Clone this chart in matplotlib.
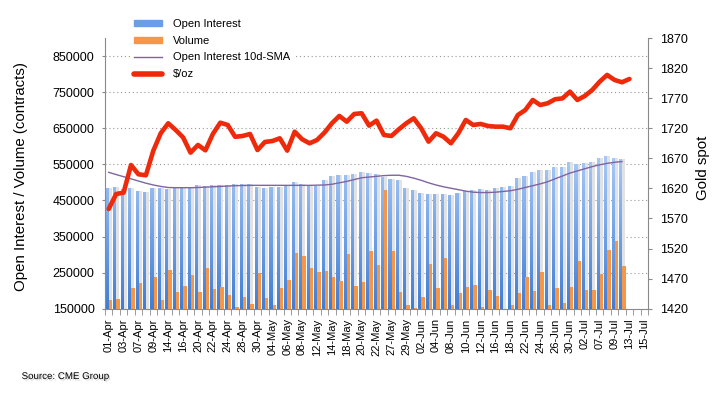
import numpy as np
import matplotlib
matplotlib.use('Agg')
import matplotlib.pyplot as plt
from matplotlib.path import Path
from matplotlib.patches import Patch
from matplotlib.lines import Line2D
from matplotlib.colors import LinearSegmentedColormap
import matplotlib.patheffects as pe

plt.rcParams['font.family'] = ['Liberation Sans', 'DejaVu Sans']

# trading days shown on the category axis
dates = ['01-Apr', '02-Apr', '03-Apr', '06-Apr', '07-Apr', '08-Apr', '09-Apr', '13-Apr', '14-Apr',
         '15-Apr', '16-Apr', '17-Apr', '20-Apr', '21-Apr', '22-Apr', '23-Apr', '24-Apr', '27-Apr',
         '28-Apr', '29-Apr', '30-Apr', '01-May', '04-May', '05-May', '06-May', '07-May', '08-May',
         '11-May', '12-May', '13-May', '14-May', '15-May', '18-May', '19-May', '20-May', '21-May',
         '22-May', '26-May', '27-May', '28-May', '29-May', '01-Jun', '02-Jun', '03-Jun', '04-Jun',
         '05-Jun', '08-Jun', '09-Jun', '10-Jun', '11-Jun', '12-Jun', '15-Jun', '16-Jun', '17-Jun',
         '18-Jun', '19-Jun', '22-Jun', '23-Jun', '24-Jun', '25-Jun', '26-Jun', '29-Jun', '30-Jun',
         '01-Jul', '02-Jul', '06-Jul', '07-Jul', '08-Jul', '09-Jul', '10-Jul', '13-Jul', '14-Jul',
         '15-Jul']

# contracts
open_interest = [485600, 487400, 481000, 484700, 476300, 473600, 485600, 485600, 482800, 486500,
                 486500, 486500, 493000, 490200, 493000, 493000, 493000, 495800, 495800, 495800,
                 487400, 484700, 487400, 487400, 491000, 500400, 495800, 490200, 491000, 506900,
                 517000, 520800, 520800, 523500, 529000, 526300, 524500, 516000, 509600, 506900,
                 485500, 479000, 471600, 468000, 468000, 468000, 465000, 471600, 476000, 479000,
                 482000, 480000, 484700, 487500, 490000, 512000, 519000, 528000, 534600, 534600,
                 543000, 543000, 556800, 552000, 554000, 556800, 568000, 573500, 568000, 565000]

volume = [174700, 176600, 140000, 207000, 221000, 140000, 237700, 174700, 257000, 196000,
          212700, 243000, 196000, 262700, 204000, 210000, 188000, 155000, 183000, 163600,
          248800, 180000, 161000, 208000, 230000, 304000, 296800, 263500, 252000, 255000,
          238500, 227000, 301500, 213600, 223800, 310800, 271000, 480000, 310800, 196000,
          161000, 152000, 183000, 273800, 208000, 290000, 161000, 193000, 210800, 215500,
          154000, 201600, 185800, 140000, 161000, 193000, 237700, 198800, 251600, 161000,
          208000, 165000, 210000, 282000, 202500, 202500, 246800, 312600, 337600, 268000]

oi_sma10 = [528000, 522000, 516000, 510000, 504000, 498000, 493000, 489000, 486000, 485500,
            485500, 485500, 486000, 487000, 488000, 489000, 490000, 491000, 491500, 492000,
            492000, 492000, 492000, 492000, 492000, 492000, 492000, 492000, 492500, 493000,
            495000, 499000, 503000, 508000, 513000, 515000, 517000, 519000, 520000, 520000,
            517000, 512000, 506000, 499000, 493000, 488000, 484000, 480000, 476000, 473000,
            472000, 472000, 473000, 475000, 477000, 481000, 486000, 491000, 496000, 502000,
            510000, 518000, 526000, 532000, 538000, 544000, 549000, 553000, 556000, 558000]

# $/oz
gold = [1585.8, 1610.8, 1613.0, 1659.0, 1643.6, 1642.0, 1683.0, 1712.0, 1728.5, 1717.4,
        1705.0, 1679.6, 1692.4, 1683.5, 1710.7, 1729.5, 1725.7, 1706.0, 1707.4, 1710.7,
        1684.0, 1697.4, 1699.0, 1703.5, 1683.0, 1714.5, 1701.9, 1695.2, 1700.7, 1712.9,
        1728.5, 1740.7, 1731.2, 1744.0, 1745.2, 1724.6, 1732.9, 1709.0, 1707.4, 1718.5,
        1728.5, 1736.8, 1720.2, 1697.9, 1711.9, 1706.2, 1695.2, 1711.9, 1734.0, 1725.7,
        1727.4, 1724.0, 1722.9, 1722.9, 1720.2, 1742.3, 1750.6, 1767.3, 1759.0, 1761.8,
        1768.5, 1770.0, 1781.2, 1767.3, 1774.0, 1784.0, 1797.8, 1809.0, 1800.6, 1796.8,
        1802.3]

blue = '#78a8ec'
orange = '#f79646'
purple = '#8064a2'
red = '#ee2a0b'
grey = '#8a8a8a'

fig = plt.figure(figsize=(7.21, 3.96), dpi=100)
ax = fig.add_axes([0.1456, 0.2207, 0.7532, 0.6826])
ax2 = ax.twinx()

x = np.arange(len(open_interest))

# bar shadow, open interest, volume
ax.bar(x + 0.2, open_interest, width=0.44, color='#e2e2e2', zorder=1)
oi_bars = ax.bar(x - 0.18, open_interest, width=0.42, color=blue, zorder=2)
ax.bar(x + 0.25, volume, width=0.45, color=orange, zorder=3)
ax.plot(x, oi_sma10, color=purple, lw=1, zorder=4)

# vertical gradient on the open interest bars
clip = Path.make_compound_path(*[b.get_path().transformed(b.get_patch_transform()) for b in oi_bars])
cmap = LinearSegmentedColormap.from_list('oi', ['#3f7dd4', '#a9cbf9'])
grad = np.linspace(0, 1, 256).reshape(-1, 1)
im = ax.imshow(grad, extent=[-0.5, 72.5, 150000, 580000], origin='lower', aspect='auto',
               cmap=cmap, zorder=2.5)
im.set_clip_path(clip, ax.transData)

ax.set_xlim(-0.5, len(dates) - 0.5)
ax.set_ylim(150000, 900000)
ax.set_yticks(range(150000, 850001, 100000))
ax.yaxis.grid(True, linestyle=(0, (1, 2.5)), color='#999999', lw=0.8)
ax.set_axisbelow(True)

ax.set_xticks(np.arange(0, len(dates), 2))
ax.set_xticklabels(dates[::2], rotation=90, fontsize=8)
ax.set_xticks(np.arange(-0.5, len(dates), 1), minor=True)
ax.tick_params(axis='x', which='major', length=0, pad=7)
ax.tick_params(axis='x', which='minor', length=4, color=grey)
ax.tick_params(axis='y', length=2.5, color=grey, labelsize=9, pad=5)

ax2.plot(np.arange(len(gold)), gold, color=red, lw=3.3, solid_joinstyle='round',
         solid_capstyle='round', zorder=5)
ax2.set_ylim(1420, 1870)
ax2.set_yticks(range(1420, 1871, 50))
ax2.tick_params(axis='y', length=3, color=grey, labelsize=9, pad=6)

for s in ['top', 'right']:
    ax.spines[s].set_visible(False)
for s in ['top', 'left', 'bottom']:
    ax2.spines[s].set_visible(False)
ax.spines['left'].set_color(grey)
ax.spines['bottom'].set_color(grey)
ax2.spines['right'].set_color(grey)

ax.set_ylabel('Open Interest / Volume (contracts)', fontsize=10.8)
ax.yaxis.set_label_coords(-0.141, 0.49)
ax2.set_ylabel('Gold spot', fontsize=10.8)
ax2.yaxis.set_label_coords(1.088, 0.52)

handles = [Patch(color='#6a9fe8'), Patch(color=orange),
           Line2D([], [], color=purple, lw=1),
           Line2D([], [], color=red, lw=4, solid_capstyle='round')]
labels = ['Open Interest', 'Volume', 'Open Interest 10d-SMA', '$/oz']
leg = ax2.legend(handles, labels, loc='upper left', bbox_to_anchor=(0.172, 0.977),
                 bbox_transform=fig.transFigure, fontsize=8, handlelength=2.5,
                 handleheight=0.5, handletextpad=1.0, labelspacing=0.6, borderpad=0.4,
                 fancybox=False, framealpha=1, facecolor='white', edgecolor='none')

src = fig.text(0.03, 1 - 376 / 396, 'Source: CME Group', fontsize=7, va='center')
src.set_path_effects([pe.withSimplePatchShadow(offset=(1, -1), shadow_rgbFace='#888888', alpha=0.4)])

fig.savefig('out.png', dpi=100)
